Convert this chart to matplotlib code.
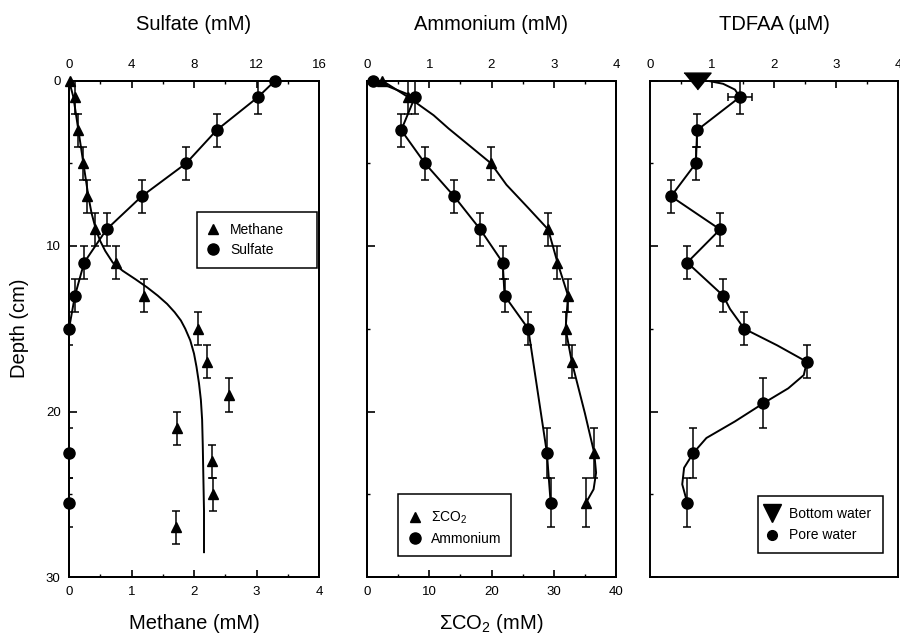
import numpy as np
import matplotlib
matplotlib.use("Agg")
import matplotlib.pyplot as plt
from matplotlib.lines import Line2D
from matplotlib.patches import Rectangle
from matplotlib.ticker import MultipleLocator

plt.rcParams['font.family'] = ['Liberation Sans', 'DejaVu Sans']
plt.rcParams['mathtext.fontset'] = 'custom'
plt.rcParams['mathtext.rm'] = 'Liberation Sans'
plt.rcParams['mathtext.it'] = 'Liberation Sans'

# ---------------- data ----------------
# Panel 1: sulfate (top axis) and methane (bottom axis)
depth_sulfate = [0, 1, 3, 5, 7, 9, 11, 13, 15, 22.5, 25.5]
sulfate = [13.2, 12.1, 9.45, 7.5, 4.65, 2.4, 0.97, 0.38, 0.0, 0.0, 0.0]
sulfate_err = [0, 1, 1, 1, 1, 1, 1, 1, 1, 1.5, 1.5]

depth_methane = [0, 1, 3, 5, 7, 9, 11, 13, 15, 17, 19, 21, 23, 25, 27]
methane = [0.02, 0.1, 0.15, 0.22, 0.28, 0.42, 0.75, 1.2, 2.07, 2.2, 2.56, 1.73, 2.29, 2.31, 1.71]
methane_err = [0, 1, 1, 1, 1, 1, 1, 1, 1, 1, 1, 1, 1, 1, 1]

# model curve for methane
fit_depth = [0, 1, 2, 3, 4, 5, 6, 7, 8, 9, 9.7, 10.3, 11, 11.5, 12, 12.5, 13,
             13.5, 14, 14.5, 15, 15.7, 16.5, 17.3, 18.3, 19.3, 20.5, 22, 24, 26, 28.5]
fit_methane = [0, 0.07, 0.11, 0.15, 0.19, 0.23, 0.27, 0.31, 0.36, 0.43, 0.50, 0.58,
               0.70, 0.86, 1.06, 1.25, 1.42, 1.57, 1.69, 1.79, 1.86, 1.94, 2.00,
               2.04, 2.08, 2.11, 2.13, 2.14, 2.15, 2.16, 2.16]

# Panel 2: ammonium (top axis) and sum CO2 (bottom axis)
depth_nh4 = [0, 1, 3, 5, 7, 9, 11, 13, 15, 22.5, 25.5]
ammonium = [0.10, 0.77, 0.55, 0.93, 1.40, 1.82, 2.18, 2.21, 2.59, 2.89, 2.95]
ammonium_err = [0, 1, 1, 1, 1, 1, 1, 1, 1, 1.5, 1.5]

depth_co2 = [0, 1, 5, 9, 11, 13, 15, 17, 22.5, 25.5]
co2 = [2.4, 6.6, 19.9, 29.1, 30.6, 32.3, 31.9, 32.9, 36.5, 35.2]
co2_err = [0, 1, 1, 1, 1, 1, 1, 1, 1.5, 1.5]
# drawn smooth curve through the CO2 profile
co2_curve_depth = [0, 1, 2.1, 2.9, 3.7, 5, 6.3, 7.7, 9, 11, 13, 15, 17, 20.1,
                   22.5, 23.7, 24.7, 25.5]
co2_curve = [2.4, 6.6, 10.7, 13.1, 15.7, 19.9, 22.4, 25.9, 29.1, 30.6, 32.3,
             31.9, 32.9, 35.0, 36.5, 36.8, 36.4, 35.2]

# Panel 3: TDFAA
bottom_water_depth = [0]
bottom_water = [0.75]
depth_tdfaa = [1, 3, 5, 7, 9, 11, 13, 15, 17, 19.5, 22.5, 25.5]
tdfaa = [1.45, 0.76, 0.74, 0.34, 1.13, 0.60, 1.18, 1.52, 2.53, 1.83, 0.70, 0.60]
tdfaa_yerr = [1, 1, 1, 1, 1, 1, 1, 1, 1, 1.5, 1.5, 1.5]
tdfaa_xerr = [0.2, 0, 0, 0, 0, 0, 0, 0, 0, 0, 0, 0]
# drawn smooth curve through the TDFAA profile
tdfaa_curve_depth = [0, 0.03, 0.2, 0.55, 1, 3, 5, 7, 9, 11, 13, 13.8, 15, 16,
                     17, 17.8, 18.6, 19.5, 20.6, 21.6, 22.5, 23.4, 24.4, 25.5]
tdfaa_curve = [0.75, 0.95, 1.18, 1.37, 1.45, 0.76, 0.74, 0.34, 1.13, 0.60, 1.18,
               1.29, 1.52, 2.05, 2.53, 2.48, 2.23, 1.83, 1.37, 0.91, 0.70, 0.55,
               0.52, 0.60]

# ---------------- figure ----------------
W, H = 900, 635
fig = plt.figure(figsize=(W / 100, H / 100), dpi=100)

bottom_px, top_px = 577, 80.5
def pos(left_px, right_px):
    return [left_px / W, 1 - bottom_px / H, (right_px - left_px) / W, (bottom_px - top_px) / H]

ax1 = fig.add_axes(pos(69, 319))
ax2 = fig.add_axes(pos(367, 616))
ax3 = fig.add_axes(pos(650, 898))

TICK_FS = 9.5
LAB_FS = 14.5
LEG_FS = 10
LW = 1.4
SPINE_W = 1.4
XLAB_Y = -0.1057
TITLE_Y = 1.1027

def style_spines(ax):
    for s in ax.spines.values():
        s.set_linewidth(SPINE_W)

def errbars(ax, x, y, yerr, xerr=None):
    x = np.asarray(x, float); y = np.asarray(y, float); yerr = np.asarray(yerr, float)
    m = yerr > 0
    ax.errorbar(x[m], y[m], yerr=yerr[m], fmt='none', ecolor='black',
                elinewidth=1.1, capsize=2.6, capthick=1.1, zorder=2)
    if xerr is not None:
        xerr = np.asarray(xerr, float)
        mx = xerr > 0
        ax.errorbar(x[mx], y[mx], xerr=xerr[mx], fmt='none', ecolor='black',
                    elinewidth=1.1, capsize=2.6, capthick=1.1, zorder=2)

def depth_axis(ax, labels):
    ax.set_ylim(30, 0)
    ax.yaxis.set_major_locator(MultipleLocator(10))
    ax.yaxis.set_minor_locator(MultipleLocator(5))
    ax.tick_params(axis='y', which='major', direction='in', length=6, width=1.2,
                   labelsize=TICK_FS, pad=6, right=False, labelleft=labels)
    ax.tick_params(axis='y', which='minor', direction='in', length=2.5, width=1.0, right=False)

def x_ticks(ax, major, minor, lim):
    ax.set_xlim(*lim)
    ax.xaxis.set_major_locator(MultipleLocator(major))
    ax.xaxis.set_minor_locator(MultipleLocator(minor))
    ax.tick_params(axis='x', which='major', direction='in', length=5, width=1.2,
                   labelsize=TICK_FS, pad=6.5)
    ax.tick_params(axis='x', which='minor', direction='in', length=2.5, width=1.0)

def boxed_legend(ax, handles, labels, anchor_px, box_px, spacing, textpad):
    leg = ax.legend(handles, labels, loc='upper left',
                    bbox_to_anchor=(anchor_px[0] / W, 1 - anchor_px[1] / H),
                    bbox_transform=fig.transFigure, frameon=False, borderpad=0,
                    borderaxespad=0, handlelength=1.0, handletextpad=textpad,
                    labelspacing=spacing, fontsize=LEG_FS)
    leg.set_zorder(7)
    x0, y0, x1, y1 = box_px
    rect = Rectangle((x0 / W, 1 - y1 / H), (x1 - x0) / W, (y1 - y0) / H,
                     transform=fig.transFigure, facecolor='white', edgecolor='black',
                     linewidth=1.1, zorder=6, clip_on=False)
    ax.add_patch(rect)
    return leg

MS_C = 8
MS_T = 7.5

# ---- Panel 1 ----
ax1t = ax1.twiny()
depth_axis(ax1, True)
x_ticks(ax1, 1, 0.5, (0, 4))
x_ticks(ax1t, 4, 2, (0, 16))
ax1.tick_params(axis='x', which='both', top=False)
ax1t.tick_params(axis='x', which='both', bottom=False)

errbars(ax1, methane, depth_methane, methane_err)
ax1.plot(fit_methane, fit_depth, color='black', lw=LW, zorder=3)
h_meth, = ax1.plot(methane, depth_methane, linestyle='none', marker='^', ms=MS_T,
                   color='black', zorder=4, clip_on=False)

errbars(ax1t, sulfate, depth_sulfate, sulfate_err)
ax1t.plot(sulfate, depth_sulfate, color='black', lw=LW, zorder=3, clip_on=False)
h_sulf, = ax1t.plot(sulfate, depth_sulfate, linestyle='none', marker='o', ms=MS_C,
                    color='black', zorder=4, clip_on=False)
ax1t.set_ylim(30, 0)

boxed_legend(ax1t, [h_meth, h_sulf], ['Methane', 'Sulfate'],
             anchor_px=(206, 223), box_px=(197, 212, 317, 268), spacing=0.4, textpad=0.73)

ax1.text(0.5, TITLE_Y, 'Sulfate (mM)', transform=ax1.transAxes, ha='center',
         va='baseline', fontsize=LAB_FS)
ax1.text(0.5, XLAB_Y, 'Methane (mM)', transform=ax1.transAxes, ha='center',
         va='baseline', fontsize=LAB_FS)
ax1.text(-0.198, 0.5, 'Depth (cm)', transform=ax1.transAxes, ha='center',
         va='center', rotation=90, fontsize=LAB_FS)

# ---- Panel 2 ----
ax2t = ax2.twiny()
depth_axis(ax2, False)
x_ticks(ax2, 10, 5, (0, 40))
x_ticks(ax2t, 1, 0.5, (0, 4))
ax2.tick_params(axis='x', which='both', top=False)
ax2t.tick_params(axis='x', which='both', bottom=False)

errbars(ax2, co2, depth_co2, co2_err)
ax2.plot(co2_curve, co2_curve_depth, color='black', lw=LW, zorder=3)
h_co2, = ax2.plot(co2, depth_co2, linestyle='none', marker='^', ms=MS_T,
                  color='black', zorder=4, clip_on=False)

errbars(ax2t, ammonium, depth_nh4, ammonium_err)
ax2t.plot(ammonium, depth_nh4, color='black', lw=LW, zorder=3)
h_nh4, = ax2t.plot(ammonium, depth_nh4, linestyle='none', marker='o', ms=MS_C,
                   color='black', zorder=4, clip_on=False)
ax2t.set_ylim(30, 0)

boxed_legend(ax2t, [h_co2, h_nh4], ['ΣCO$_2$', 'Ammonium'],
             anchor_px=(408, 510), box_px=(398, 494, 511, 556), spacing=0.4, textpad=0.63)

ax2.text(0.5, TITLE_Y, 'Ammonium (mM)', transform=ax2.transAxes, ha='center',
         va='baseline', fontsize=LAB_FS)
ax2.text(0.5, XLAB_Y, 'ΣCO$_2$ (mM)', transform=ax2.transAxes, ha='center',
         va='baseline', fontsize=LAB_FS)

# ---- Panel 3 ----
depth_axis(ax3, False)
ax3.xaxis.tick_top()
x_ticks(ax3, 1, 0.5, (0, 4))
ax3.tick_params(axis='x', which='both', bottom=False, labelbottom=False,
                top=True, labeltop=True)

errbars(ax3, tdfaa, depth_tdfaa, tdfaa_yerr, tdfaa_xerr)
ax3.plot(tdfaa_curve, tdfaa_curve_depth, color='black', lw=LW, zorder=3)
ax3.plot(tdfaa, depth_tdfaa, linestyle='none', marker='o', ms=MS_C, color='black',
         zorder=4, clip_on=False)
flat_tri = [(-1, 0.62), (1, 0.62), (0, -0.62)]
ax3.plot(bottom_water, bottom_water_depth, linestyle='none', marker=flat_tri,
         ms=19.5, color='black', zorder=5, clip_on=False)

hb = Line2D([], [], linestyle='none', marker='v', ms=13, color='black')
hp = Line2D([], [], linestyle='none', marker='o', ms=7, color='black')
boxed_legend(ax3, [hb, hp], ['Bottom water', 'Pore water'],
             anchor_px=(765, 506.5), box_px=(758, 496, 883, 553), spacing=0.57, textpad=0.7)

ax3.text(0.5, TITLE_Y, 'TDFAA (µM)', transform=ax3.transAxes, ha='center',
         va='baseline', fontsize=LAB_FS)

for a in (ax1, ax1t, ax2, ax2t, ax3):
    style_spines(a)

fig.savefig('out.png', dpi=100)
